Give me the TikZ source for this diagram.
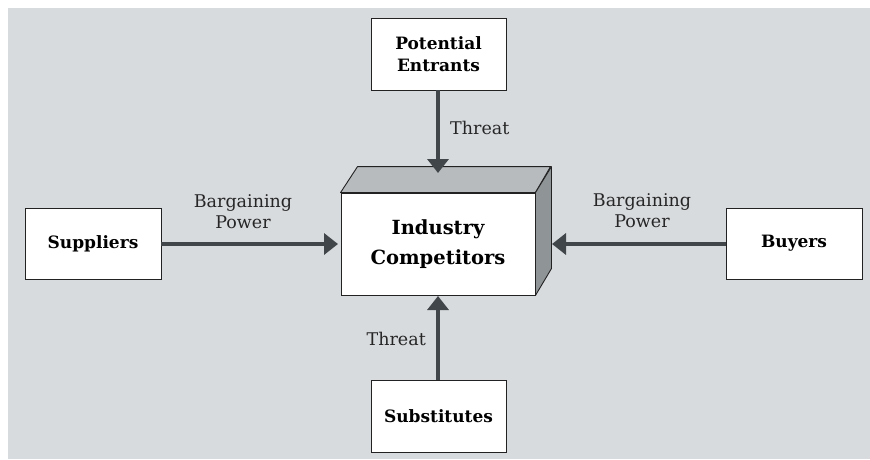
\documentclass[tikz,border=0pt]{standalone}
\usepackage{fontspec}
\setmainfont{DejaVu Serif}
\usetikzlibrary{arrows.meta}
\definecolor{bgc}{HTML}{D8DBDE}
\definecolor{arrc}{HTML}{40464A}
\definecolor{topc}{HTML}{B7BBBE}
\definecolor{sidec}{HTML}{8F9496}
\definecolor{edgec}{HTML}{222222}
\tikzset{
  forcebox/.style={draw=edgec, line width=0.9pt, fill=white, font=\bfseries\fontsize{17}{22}\selectfont, align=center, inner sep=0pt},
  force/.style={draw=arrc, line width=4.5pt, -{Triangle[length=14pt,width=21pt]}, arrc},
  lbl/.style={font=\fontsize{17.5}{21}\selectfont, text=black!85, align=center, inner sep=0pt}
}
\begin{document}
\begin{tikzpicture}[x=1pt,y=-1pt]
\useasboundingbox (0,0) rectangle (870,459);
\fill[bgc] (8,8) rectangle (870,459);
% central box
\node[forcebox, minimum width=194pt, minimum height=102pt, font=\bfseries\fontsize{19.5}{30}\selectfont] (ic) at (438,244) {Industry\\Competitors};
\filldraw[fill=topc, draw=edgec, line width=0.9pt, line join=round] (ic.north west) -- ++(17,-26) -- ++(193,0) -- (ic.north east) -- cycle;
\filldraw[fill=sidec, draw=edgec, line width=0.9pt, line join=round] (ic.north east) -- ++(16,-26) -- ++(0,102) -- (ic.south east) -- cycle;
% outer boxes
\node[forcebox, minimum width=135pt, minimum height=72pt] (pe) at (438.5,54) {Potential\\Entrants};
\node[forcebox, minimum width=136pt, minimum height=71pt] (su) at (93,243.5) {Suppliers};
\node[forcebox, minimum width=136pt, minimum height=71pt] (bu) at (794,243.5) {Buyers};
\node[forcebox, minimum width=135pt, minimum height=72pt] (sb) at (438.5,416) {Substitutes};
% arrow end points
\coordinate (topend) at (438,173);
\coordinate (leftend) at (338,244);
\coordinate (rightend) at (552,244);
\coordinate (botend) at (438,296);
\draw[force] (pe.south -| topend) -- (topend);
\draw[force] (su.east |- leftend) -- (leftend);
\draw[force] (bu.west |- rightend) -- (rightend);
\draw[force] (sb.north -| botend) -- (botend);
% labels
\node[lbl, anchor=west] (t1) at (450,128) {Threat};
\node[lbl, anchor=east] (t2) at (426,339) {Threat};
\node[lbl] (b1) at (243,212) {Bargaining\\Power};
\node[lbl] (b2) at (642,211) {Bargaining\\Power};
\end{tikzpicture}
\end{document}
